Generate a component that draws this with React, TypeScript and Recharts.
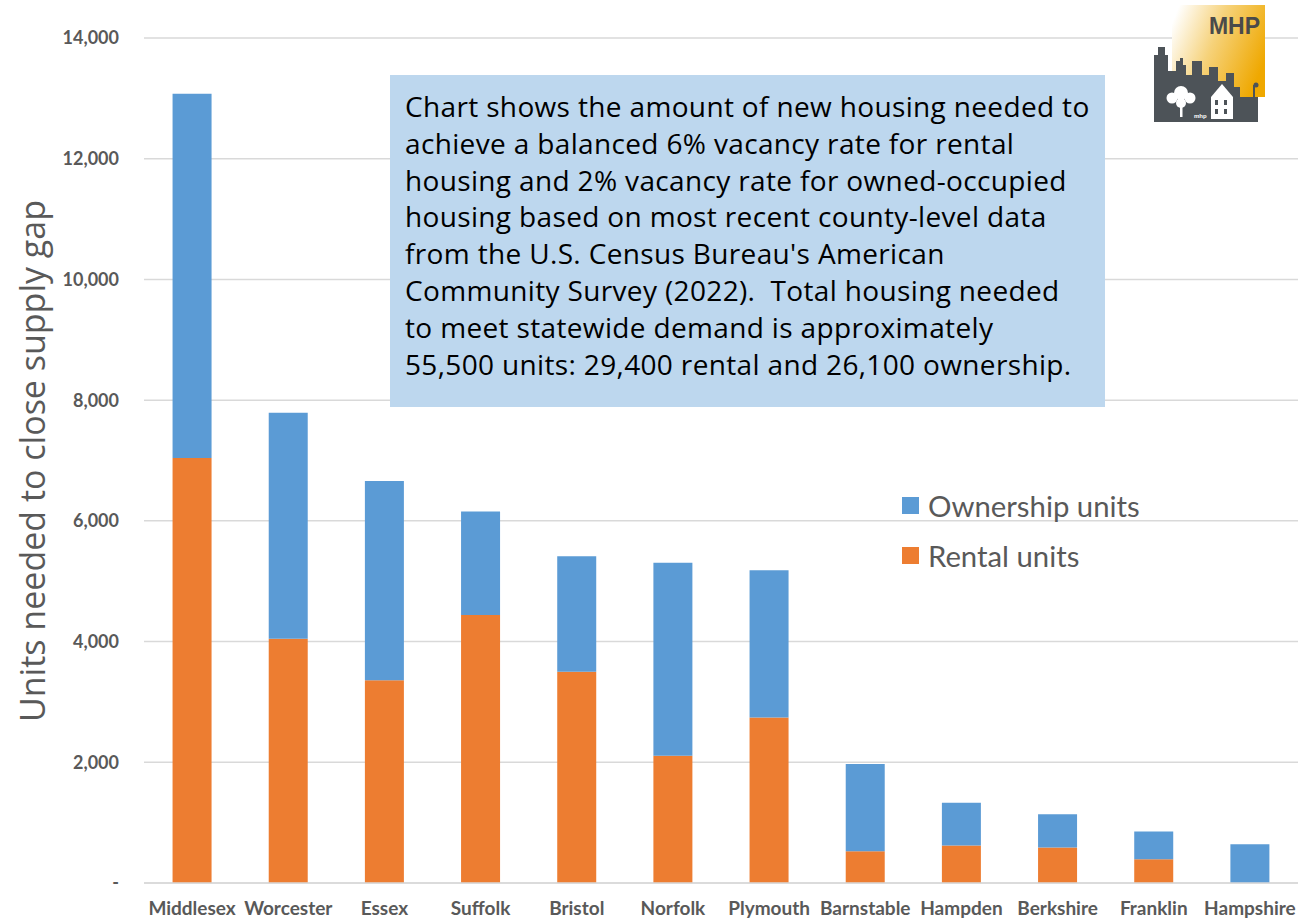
import React from 'react';
import { BarChart, Bar, XAxis, YAxis, CartesianGrid } from 'recharts';

const counties = ['Middlesex', 'Worcester', 'Essex', 'Suffolk', 'Bristol', 'Norfolk', 'Plymouth', 'Barnstable', 'Hampden', 'Berkshire', 'Franklin', 'Hampshire'];
const rentalUnits = [7040, 4045, 3360, 4440, 3500, 2110, 2740, 525, 620, 590, 395, 0];
const ownershipUnits = [6035, 3745, 3300, 1715, 1915, 3195, 2440, 1445, 710, 550, 460, 640];
const yTicks = [0, 2000, 4000, 6000, 8000, 10000, 12000, 14000];
const noteLines = [
  'Chart shows the amount of new housing needed to',
  'achieve a balanced 6% vacancy rate for rental',
  'housing and 2% vacancy rate for owned-occupied',
  'housing based on most recent county-level data',
  "from the U.S. Census Bureau's American",
  'Community Survey (2022).  Total housing needed',
  'to meet statewide demand is approximately',
  '55,500 units: 29,400 rental and 26,100 ownership.',
];
const legendItems = [
  { name: 'Ownership units', color: '#5B9BD5' },
  { name: 'Rental units', color: '#ED7D31' },
];

const data = counties.map((c, i) => ({ county: c, rental: rentalUnits[i], ownership: ownershipUnits[i] }));

const FONT = 'Lato, "Open Sans", sans-serif';
const FONT2 = '"Open Sans", Lato, sans-serif';

const fmt = (v: number) => (v === 0 ? '-' : v.toLocaleString('en-US'));

function Logo() {
  return (
    <svg width={115} height={122} style={{ position: 'absolute', left: 1152, top: 3 }}>
      <defs>
        <linearGradient id="gold" x1="0" y1="0.2" x2="1" y2="0.6">
          <stop offset="0" stopColor="#FFFFFF" />
          <stop offset="0.45" stopColor="#F6D27A" />
          <stop offset="1" stopColor="#EFA800" />
        </linearGradient>
      </defs>
      <rect x={20} y={2} width={93} height={92} fill="url(#gold)" />
      <text x={108} y={31} textAnchor="end" fontFamily="Arial, sans-serif" fontWeight="bold" fontSize={23} fill="#4A4A4A">MHP</text>
      <path d="M2 119 L2 52 L6 52 L6 44 L13 44 L13 52 L16 52 L16 68 L24 68 L24 58 L28 58 L28 55 L31 55 L31 62 L34 62 L34 72 L40 72 L40 58 L50 58 L50 72 L57 72 L57 64 L66 64 L66 78 L74 78 L74 70 L82 70 L82 84 L88 84 L88 94 L106 94 L106 119 Z" fill="#4D5358" />
      <rect x={101} y={82} width={2} height={37} fill="#4D5358" />
      <circle cx={104} cy={82} r={2.5} fill="#4D5358" />
      <g fill="#FFFFFF">
        <circle cx={29} cy={90} r={7} />
        <circle cx={20} cy={95} r={5.5} />
        <circle cx={38} cy={95} r={5.5} />
        <circle cx={29} cy={100} r={5} />
        <rect x={28} y={99} width={2.5} height={15} />
        <path d="M59 116 L59 94 L70 81 L81 94 L81 116 Z" />
      </g>
      <g fill="#4D5358">
        <rect x={63} y={97} width={3} height={5} />
        <rect x={72} y={97} width={3} height={5} />
        <rect x={63} y={106} width={3} height={5} />
        <rect x={72} y={106} width={3} height={5} />
      </g>
      <text x={42} y={115} fontSize={6} fill="#FFFFFF" fontFamily="Arial" fontWeight="bold">mhp</text>
    </svg>
  );
}

export default function App() {
  return (
    <div style={{ position: 'absolute', left: 0, top: 0, width: 1299, height: 922, background: '#fff', fontFamily: FONT }}>
      <BarChart
        width={1299}
        height={922}
        data={data}
        margin={{ top: 38, right: 1, bottom: 0, left: 0 }}
        barCategoryGap="29.7%"
      >
        <CartesianGrid horizontal vertical={false} stroke="#D9D9D9" strokeWidth={1.5} />
        <XAxis
          dataKey="county"
          height={39}
          axisLine={{ stroke: '#D9D9D9', strokeWidth: 1.5 }}
          tickLine={false}
          tickSize={0}
          tickMargin={19}
          interval={0}
          tick={{ fill: '#595959', fontSize: 19, fontWeight: 'bold', fontFamily: FONT }}
        />
        <YAxis
          width={144}
          domain={[0, 14000]}
          ticks={yTicks}
          tickFormatter={fmt}
          axisLine={false}
          tickLine={false}
          tickSize={0}
          tickMargin={25}
          tick={{ fill: '#595959', fontSize: 18, fontWeight: 'bold', fontFamily: FONT }}
          label={{
            content: () => (
              <text
                x={0}
                y={0}
                transform="translate(45 461) rotate(-90)"
                textAnchor="middle"
                fill="#595959"
                fontSize={34}
                fontFamily={FONT2}
              >
                Units needed to close supply gap
              </text>
            ),
          }}
        />
        <Bar dataKey="rental" stackId="a" fill="#ED7D31" isAnimationActive={false} />
        <Bar dataKey="ownership" stackId="a" fill="#5B9BD5" isAnimationActive={false} />
      </BarChart>

      <div
        style={{
          position: 'absolute',
          left: 390,
          top: 75,
          width: 715,
          height: 332,
          background: '#BDD7EE',
          boxSizing: 'border-box',
          padding: '13px 0 0 15px',
          fontFamily: FONT2,
          fontSize: 28,
          letterSpacing: '0.35px',
          lineHeight: '36.8px',
          color: '#000',
          whiteSpace: 'pre',
        }}
      >
        {noteLines.map((l) => (
          <div key={l}>{l}</div>
        ))}
      </div>

      <div style={{ position: 'absolute', left: 902, top: 480 }}>
        {legendItems.map((it) => (
          <div key={it.name} style={{ display: 'flex', alignItems: 'center', height: 50 }}>
            <div style={{ width: 17, height: 17, background: it.color, marginRight: 9 }} />
            <span style={{ fontSize: 29.3, color: '#595959', fontFamily: FONT }}>{it.name}</span>
          </div>
        ))}
      </div>

      <Logo />
    </div>
  );
}
